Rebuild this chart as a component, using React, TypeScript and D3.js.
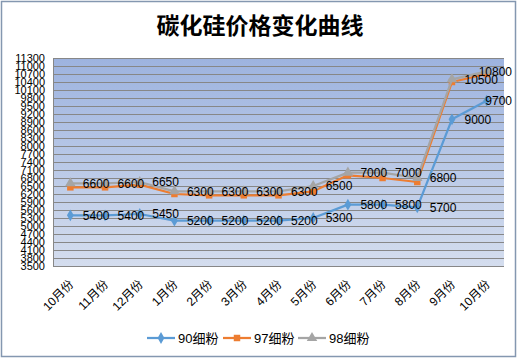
import React, { useEffect, useRef } from 'react';
import * as d3 from 'd3';

const months = ['10月份', '11月份', '12月份', '1月份', '2月份', '3月份', '4月份', '5月份', '6月份', '7月份', '8月份', '9月份', '10月份'];
const fine90 = [5400, 5400, 5450, 5200, 5200, 5200, 5200, 5300, 5800, 5800, 5700, 9000, 9700];
const fine97 = [6450, 6450, 6550, 6200, 6150, 6150, 6150, 6300, 6900, 6800, 6650, 10400, 10700];
const fine98 = [6600, 6600, 6650, 6300, 6300, 6300, 6300, 6500, 7000, 7000, 6800, 10500, 10800];
const seriesNames = ['90细粉', '97细粉', '98细粉'];
const yTicks = d3.range(3500, 11301, 300);

function App() {
  const svgRef = useRef<SVGSVGElement>(null);

  useEffect(() => {
    const svg = d3.select(svgRef.current);
    svg.selectAll('*').remove();

    const width = 520;
    const height = 360;
    const plot = { left: 53, right: 504, top: 58, bottom: 266 };
    const font = '"Liberation Sans", Arial, sans-serif';
    const cjk = '"Liberation Sans", "Noto Sans CJK SC", sans-serif';

    svg.attr('width', width).attr('height', height);

    const defs = svg.append('defs');
    const grad = defs.append('linearGradient').attr('id', 'plotbg')
      .attr('x1', 0).attr('y1', 0).attr('x2', 0).attr('y2', 1);
    grad.append('stop').attr('offset', '0%').attr('stop-color', '#9db3df');
    grad.append('stop').attr('offset', '100%').attr('stop-color', '#d4ddee');

    svg.append('rect').attr('width', width).attr('height', height).attr('fill', '#fff');
    svg.append('rect')
      .attr('x', 1.5).attr('y', 1.5).attr('width', 514).attr('height', 355)
      .attr('fill', 'none').attr('stroke', '#8497b0').attr('stroke-width', 1.5);

    svg.append('text')
      .attr('x', 260).attr('y', 34)
      .attr('text-anchor', 'middle')
      .attr('font-family', '"Noto Sans CJK SC", sans-serif')
      .attr('font-weight', 'bold')
      .attr('font-size', 23)
      .text('碳化硅价格变化曲线');

    const x = d3.scaleBand<number>().domain(d3.range(months.length)).range([plot.left, plot.right]);
    const cx = (i: number) => (x(i) as number) + x.bandwidth() / 2;
    const y = d3.scaleLinear().domain([3500, 11300]).range([plot.bottom, plot.top]);

    svg.append('rect')
      .attr('x', plot.left).attr('y', plot.top)
      .attr('width', plot.right - plot.left).attr('height', plot.bottom - plot.top)
      .attr('fill', 'url(#plotbg)');

    // grid + y labels
    svg.append('g').selectAll('line').data(yTicks).enter().append('line')
      .attr('x1', plot.left).attr('x2', plot.right)
      .attr('y1', d => Math.round(y(d)) + 0.5).attr('y2', d => Math.round(y(d)) + 0.5)
      .attr('stroke', '#878787').attr('stroke-width', 1);
    svg.append('line')
      .attr('x1', plot.left + 0.5).attr('x2', plot.left + 0.5)
      .attr('y1', plot.top).attr('y2', plot.bottom)
      .attr('stroke', '#878787');

    svg.append('g').selectAll('text').data(yTicks).enter().append('text')
      .attr('x', 45).attr('y', d => y(d)).attr('dy', '0.35em')
      .attr('text-anchor', 'end')
      .attr('font-family', font).attr('font-size', 11)
      .text(d => d);

    // x labels
    svg.append('g').selectAll('text').data(months).enter().append('text')
      .attr('transform', (d, i) => `translate(${cx(i) + 1},${plot.bottom + 16}) rotate(-45)`)
      .attr('text-anchor', 'end').attr('dy', '0.35em')
      .attr('font-family', cjk).attr('font-size', 12)
      .text(d => d);

    const line = d3.line<number>().x((d, i) => cx(i)).y(d => y(d));
    const series = [
      { values: fine90, color: '#5b9bd5', marker: d3.symbolDiamond, size: 40, labels: true },
      { values: fine97, color: '#ed7d31', marker: d3.symbolSquare, size: 42, labels: false },
      { values: fine98, color: '#a5a5a5', marker: d3.symbolTriangle, size: 48, labels: true },
    ];

    series.forEach(s => {
      svg.append('path').datum(s.values)
        .attr('d', line).attr('fill', 'none')
        .attr('stroke', s.color).attr('stroke-width', 2.25).attr('stroke-linejoin', 'round');
      svg.append('g').selectAll('path').data(s.values).enter().append('path')
        .attr('transform', (d, i) => `translate(${cx(i)},${y(d)})`)
        .attr('d', d3.symbol().type(s.marker).size(s.size)())
        .attr('fill', s.color);
    });

    series.filter(s => s.labels).forEach(s => {
      svg.append('g').selectAll('text').data(s.values).enter().append('text')
        .attr('x', (d, i) => (i === s.values.length - 1 ? 512 : cx(i) + 12.5))
        .attr('text-anchor', (d, i) => (i === s.values.length - 1 ? 'end' : 'start'))
        .attr('y', d => y(d)).attr('dy', '0.35em')
        .attr('font-family', font).attr('font-size', 12)
        .text(d => d);
    });

    // legend
    const legendX = [147, 223, 298];
    const lg = svg.append('g').attr('transform', 'translate(0,338)');
    series.forEach((s, i) => {
      lg.append('line')
        .attr('x1', legendX[i]).attr('x2', legendX[i] + 28)
        .attr('stroke', s.color).attr('stroke-width', 2.25);
      lg.append('path')
        .attr('transform', `translate(${legendX[i] + 14},0)`)
        .attr('d', d3.symbol().type(s.marker).size(s.size)())
        .attr('fill', s.color);
      lg.append('text')
        .attr('x', legendX[i] + 31).attr('dy', '0.35em')
        .attr('font-family', cjk).attr('font-size', 13)
        .text(seriesNames[i]);
    });
  }, []);

  return (
    <div style={{ position: 'absolute', left: 0, top: 0 }}>
      <svg ref={svgRef} style={{ display: 'block' }}></svg>
    </div>
  );
}

export default App;
